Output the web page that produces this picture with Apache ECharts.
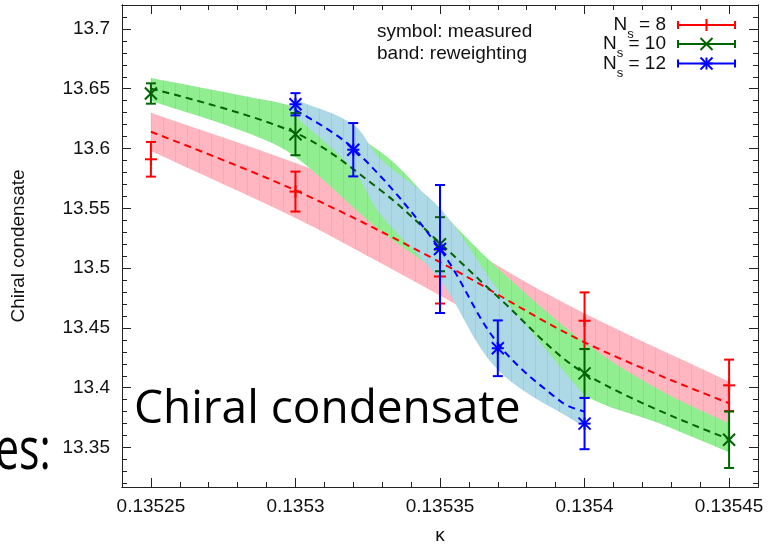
<!DOCTYPE html>
<html>
<head>
<meta charset="utf-8">
<title>Chiral condensate</title>
<script src="https://cdn.jsdelivr.net/npm/echarts@6/dist/echarts.min.js"></script>
<style>
html, body { margin: 0; padding: 0; background: #fff; }
#chart { width: 769px; height: 545px; }
</style>
</head>
<body>
<div id="chart"></div>
<script>
// axis ticks
var majorKappa = [0.13525, 0.1353, 0.13535, 0.1354, 0.13545];
var majorCond = [13.35, 13.4, 13.45, 13.5, 13.55, 13.6, 13.65, 13.7];

// measured points (symbols with error bars)
var kappa8 = [0.13525, 0.1353, 0.13535, 0.1354, 0.13545];
var cond8 = [13.591, 13.564, 13.493, 13.456, 13.402];
var err8 = [0.0145, 0.0167, 0.0226, 0.0237, 0.0215];

var kappa10 = [0.13525, 0.1353, 0.13535, 0.1354, 0.13545];
var cond10 = [13.646, 13.612, 13.520, 13.412, 13.3565];
var err10 = [0.0085, 0.0176, 0.0226, 0.0204, 0.0236];

var kappa12 = [0.1353, 0.13532, 0.13535, 0.13537, 0.1354];
var cond12 = [13.637, 13.599, 13.516, 13.433, 13.370];
var err12 = [0.0093, 0.0223, 0.0535, 0.0233, 0.0214];

// reweighting: central curve
var lineKappa8 = [0.13525, 0.1353, 0.13535, 0.1354, 0.13545];
var lineCond8 = [13.614, 13.565, 13.505, 13.438, 13.387];
var lineKappa10 = [0.13525, 0.1353, 0.135329, 0.13535, 0.13537, 0.1354, 0.13545];
var lineCond10 = [13.650, 13.613, 13.566, 13.521, 13.476, 13.412, 13.357];
var lineKappa12 = [0.1353, 0.13532, 0.13535, 0.13537, 0.135392, 0.1354];
var lineCond12 = [13.632, 13.600, 13.516, 13.437, 13.388, 13.380];

// reweighting: error band
var bandKappa8 = [0.13525, 0.1353, 0.135329, 0.135392, 0.13545];
var bandLo8 = [13.598, 13.542, 13.505, 13.424, 13.369];
var bandHi8 = [13.630, 13.588, 13.559, 13.472, 13.405];
var bandKappa10 = [0.13525, 0.135284, 0.1353, 0.135329, 0.13535, 0.13537, 0.1354, 0.135426, 0.13545];
var bandLo10 = [13.640, 13.6125, 13.593, 13.532, 13.495, 13.452, 13.394, 13.370, 13.346];
var bandHi10 = [13.659, 13.643, 13.634, 13.598, 13.548, 13.500, 13.438, 13.398, 13.370];
var bandKappa12 = [0.1353, 0.13532, 0.135329, 0.13535, 0.13537, 0.1354];
var bandLo12 = [13.627, 13.582, 13.546, 13.490, 13.415, 13.367];
var bandHi12 = [13.641, 13.620, 13.592, 13.550, 13.482, 13.393];

var FONT = 'Liberation Sans';
var FRAME = '#222';

var minorKappa = [];
for (var i = 0; i <= 22; i++) {
    var v = +(0.13524 + i * 0.00001).toFixed(5);
    if (majorKappa.indexOf(v) < 0) minorKappa.push(v);
}
var minorCond = [];
for (var j = 0; j <= 40; j++) {
    var w = +(13.32 + j * 0.01).toFixed(2);
    if (majorCond.indexOf(w) < 0) minorCond.push(w);
}

function xAxisDef(pos, ticks, len, withLabels) {
    return {
        type: 'value', min: 0.13524, max: 0.13546, position: pos,
        axisLine: { show: true, onZero: false, lineStyle: { color: FRAME, width: 1 } },
        axisTick: { show: true, inside: true, length: len, customValues: ticks, lineStyle: { color: FRAME } },
        axisLabel: withLabels ? {
            show: true, customValues: majorKappa, margin: 10, fontSize: 19, fontFamily: FONT, color: '#111',
            formatter: function (v) { return String(+v.toFixed(5)); }
        } : { show: false },
        splitLine: { show: false }
    };
}
function yAxisDef(pos, ticks, len, withLabels) {
    return {
        type: 'value', min: 13.317, max: 13.72, position: pos,
        axisLine: { show: true, onZero: false, lineStyle: { color: FRAME, width: 1 } },
        axisTick: { show: true, inside: true, length: len, customValues: ticks, lineStyle: { color: FRAME } },
        axisLabel: withLabels ? {
            show: true, customValues: majorCond, margin: 12, fontSize: 19, fontFamily: FONT, color: '#111',
            formatter: function (v) { return String(+v.toFixed(2)); }
        } : { show: false },
        splitLine: { show: false }
    };
}

var xAxes = [
    xAxisDef('bottom', majorKappa, 9, true),
    xAxisDef('bottom', minorKappa, 5, false),
    xAxisDef('top', majorKappa, 9, false),
    xAxisDef('top', minorKappa, 5, false)
];
xAxes[0].name = 'κ';
xAxes[0].nameLocation = 'middle';
xAxes[0].nameGap = 39;
xAxes[0].nameTextStyle = { fontSize: 19, fontFamily: FONT, color: '#111' };

var yAxes = [
    yAxisDef('left', majorCond, 9, true),
    yAxisDef('left', minorCond, 5, false),
    yAxisDef('right', majorCond, 9, false),
    yAxisDef('right', minorCond, 5, false)
];
yAxes[0].name = 'Chiral condensate';
yAxes[0].nameLocation = 'middle';
yAxes[0].nameRotate = 90;
yAxes[0].nameGap = 94;
yAxes[0].nameTextStyle = { fontSize: 19, fontFamily: FONT, color: '#111' };

// gnuplot leaves faint vertical seams between the band's slices
function stripeFill(base, seam) {
    var c = document.createElement('canvas');
    c.width = 12; c.height = 4;
    var ctx = c.getContext('2d');
    ctx.fillStyle = base; ctx.fillRect(0, 0, 12, 4);
    ctx.fillStyle = seam; ctx.fillRect(7, 0, 1, 4);
    return { image: c, repeat: 'repeat' };
}

// band: smooth polygon through lower and upper curves (corners doubled so the ends stay straight)
function bandSeries(kappa, lo, hi, base, seam, z) {
    var fill = stripeFill(base, seam);
    return {
        type: 'custom', silent: true, z: z,
        data: kappa.map(function (k, i) { return [k, lo[i], hi[i]]; }),
        encode: { x: 0, y: [1, 2] },
        renderItem: function (params, api) {
            if (params.dataIndex !== 0) return null;
            var top = [], bot = [];
            for (var i = 0; i < kappa.length; i++) {
                top.push(api.coord([kappa[i], hi[i]]));
                bot.push(api.coord([kappa[i], lo[i]]));
            }
            bot.reverse();
            var pts = [top[0]].concat(top, [top[top.length - 1]], [bot[0]], bot, [bot[bot.length - 1]]);
            return {
                type: 'polygon',
                shape: { points: pts, smooth: 0.35 },
                style: { fill: fill, stroke: null }
            };
        }
    };
}

function fitSeries(kappa, cond, color, z) {
    return {
        type: 'line', silent: true, z: z, smooth: 0.35, symbol: 'none',
        data: kappa.map(function (k, i) { return [k, cond[i]]; }),
        lineStyle: { color: color, width: 2, type: [7, 5] }
    };
}

function markShapes(mark, x, y, color) {
    var s = 6, st = { stroke: color, lineWidth: 2 };
    var out = [];
    if (mark === '+' || mark === '*') {
        out.push({ type: 'line', shape: { x1: x - s, y1: y, x2: x + s, y2: y }, style: st });
        out.push({ type: 'line', shape: { x1: x, y1: y - s, x2: x, y2: y + s }, style: st });
    }
    if (mark === 'x' || mark === '*') {
        out.push({ type: 'line', shape: { x1: x - s, y1: y - s, x2: x + s, y2: y + s }, style: st });
        out.push({ type: 'line', shape: { x1: x - s, y1: y + s, x2: x + s, y2: y - s }, style: st });
    }
    return out;
}

function errorSeries(kappa, cond, err, color, mark, z) {
    return {
        type: 'custom', silent: true, z: z,
        data: kappa.map(function (k, i) { return [k, cond[i], err[i]]; }),
        encode: { x: 0, y: 1 },
        renderItem: function (params, api) {
            var k = api.value(0), c = api.value(1), e = api.value(2);
            var p = api.coord([k, c]);
            var hi = api.coord([k, c + e]);
            var lo = api.coord([k, c - e]);
            var st = { stroke: color, lineWidth: 2 };
            var kids = [
                { type: 'line', shape: { x1: p[0], y1: hi[1], x2: p[0], y2: lo[1] }, style: st },
                { type: 'line', shape: { x1: p[0] - 5, y1: hi[1], x2: p[0] + 5, y2: hi[1] }, style: st },
                { type: 'line', shape: { x1: p[0] - 5, y1: lo[1], x2: p[0] + 5, y2: lo[1] }, style: st }
            ].concat(markShapes(mark, p[0], p[1], color));
            return { type: 'group', children: kids };
        }
    };
}

// legend drawn by hand (gnuplot style: text on the left, errorbar sample on the right)
var legendRows = [
    { label: 'N{s|s} = 8', color: '#ff0000', mark: '+' },
    { label: 'N{s|s} = 10', color: '#006400', mark: 'x' },
    { label: 'N{s|s} = 12', color: '#0000ff', mark: '*' }
];
var legendY = [25, 44, 63.5];
var graphics = [];
legendRows.forEach(function (r, i) {
    var y = legendY[i];
    graphics.push({
        type: 'text', x: 666, y: y, silent: true,
        style: {
            text: r.label, align: 'right', verticalAlign: 'middle',
            font: '19px "' + FONT + '"', fill: '#111', lineHeight: 32,
            rich: { s: { fontSize: 13, fontFamily: FONT, lineHeight: 13, verticalAlign: 'bottom' } }
        }
    });
    var st = { stroke: r.color, lineWidth: 2 };
    graphics.push({ type: 'line', silent: true, shape: { x1: 678, y1: y, x2: 735, y2: y }, style: st });
    graphics.push({ type: 'line', silent: true, shape: { x1: 678, y1: y - 4, x2: 678, y2: y + 4 }, style: st });
    graphics.push({ type: 'line', silent: true, shape: { x1: 735, y1: y - 4, x2: 735, y2: y + 4 }, style: st });
    markShapes(r.mark, 706.5, y, r.color).forEach(function (m) { m.silent = true; graphics.push(m); });
});
graphics.push({
    type: 'text', x: 377, y: 32, silent: true,
    style: { text: 'symbol: measured', font: '19px "' + FONT + '"', fill: '#111', verticalAlign: 'middle' }
});
graphics.push({
    type: 'text', x: 377, y: 54, silent: true,
    style: { text: 'band: reweighting', font: '19px "' + FONT + '"', fill: '#111', verticalAlign: 'middle' }
});
// slide text lying over the figure
graphics.push({
    type: 'text', x: 134, y: 410, silent: true, z: 100,
    style: { text: 'Chiral condensate', font: '46px "Open Sans"', fill: '#000', verticalAlign: 'middle' }
});
graphics.push({
    type: 'text', x: -5, y: 452, scaleX: 0.74, silent: true, z: 100,
    style: { text: 'es:', font: '58px "Open Sans"', fill: '#000', verticalAlign: 'middle' }
});

var chart = echarts.init(document.getElementById('chart'));
chart.setOption({
    animation: false,
    backgroundColor: '#fff',
    textStyle: { fontFamily: FONT },
    grid: { left: 122, right: 11, top: 5, bottom: 58, containLabel: false, outerBoundsMode: 'none' },
    xAxis: xAxes,
    yAxis: yAxes,
    series: [
        bandSeries(bandKappa8, bandLo8, bandHi8, '#ffb6c1', '#f3abb8', 1),
        bandSeries(bandKappa10, bandLo10, bandHi10, '#90ee90', '#87e088', 1),
        bandSeries(bandKappa12, bandLo12, bandHi12, '#add8e6', '#a2cbda', 1),
        fitSeries(lineKappa8, lineCond8, '#ff0000', 3),
        fitSeries(lineKappa10, lineCond10, '#006400', 3),
        fitSeries(lineKappa12, lineCond12, '#0000ff', 3),
        errorSeries(kappa8, cond8, err8, '#ff0000', '+', 4),
        errorSeries(kappa10, cond10, err10, '#006400', 'x', 4),
        errorSeries(kappa12, cond12, err12, '#0000ff', '*', 4)
    ],
    graphic: graphics
});
</script>
</body>
</html>
